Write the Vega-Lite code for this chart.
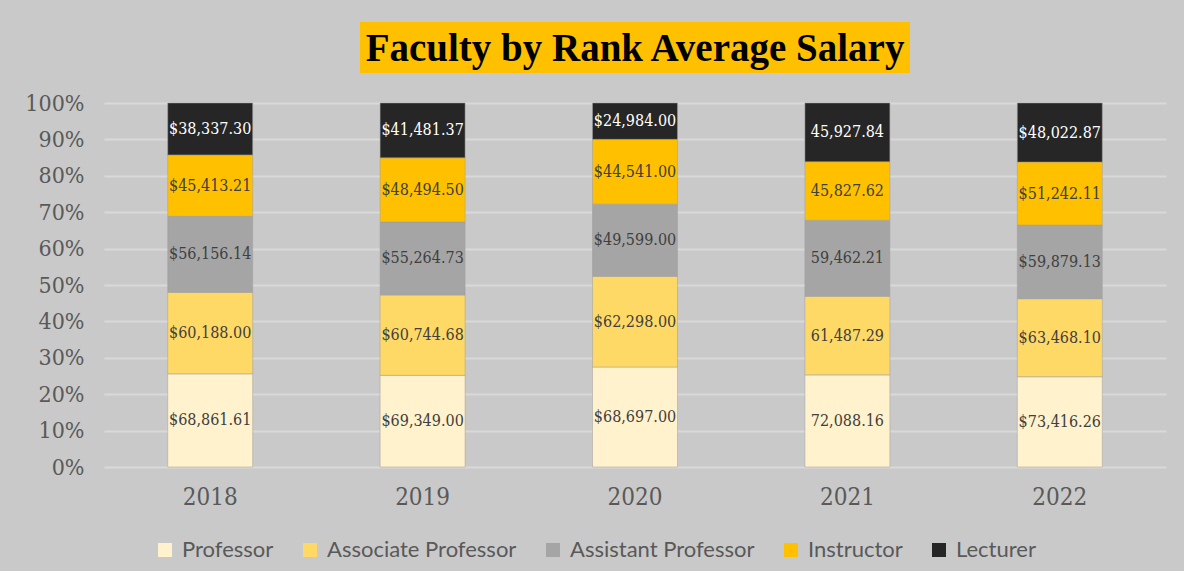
{
  "$schema": "https://vega.github.io/schema/vega-lite/v6.json",
  "background": "#C9C9C9",
  "padding": {"left": 24, "top": 22, "right": 18, "bottom": 10},
  "config": {
    "view": {"stroke": null},
    "legend": {"layout": {"bottom": {"anchor": "middle"}}}
  },
  "datasets": {
    "salaries": [
      {"year": "2018", "rank": "Professor", "salary": 68861.61, "label": "$68,861.61"},
      {"year": "2018", "rank": "Associate Professor", "salary": 60188.00, "label": "$60,188.00"},
      {"year": "2018", "rank": "Assistant Professor", "salary": 56156.14, "label": "$56,156.14"},
      {"year": "2018", "rank": "Instructor", "salary": 45413.21, "label": "$45,413.21"},
      {"year": "2018", "rank": "Lecturer", "salary": 38337.30, "label": "$38,337.30"},
      {"year": "2019", "rank": "Professor", "salary": 69349.00, "label": "$69,349.00"},
      {"year": "2019", "rank": "Associate Professor", "salary": 60744.68, "label": "$60,744.68"},
      {"year": "2019", "rank": "Assistant Professor", "salary": 55264.73, "label": "$55,264.73"},
      {"year": "2019", "rank": "Instructor", "salary": 48494.50, "label": "$48,494.50"},
      {"year": "2019", "rank": "Lecturer", "salary": 41481.37, "label": "$41,481.37"},
      {"year": "2020", "rank": "Professor", "salary": 68697.00, "label": "$68,697.00"},
      {"year": "2020", "rank": "Associate Professor", "salary": 62298.00, "label": "$62,298.00"},
      {"year": "2020", "rank": "Assistant Professor", "salary": 49599.00, "label": "$49,599.00"},
      {"year": "2020", "rank": "Instructor", "salary": 44541.00, "label": "$44,541.00"},
      {"year": "2020", "rank": "Lecturer", "salary": 24984.00, "label": "$24,984.00"},
      {"year": "2021", "rank": "Professor", "salary": 72088.16, "label": "72,088.16"},
      {"year": "2021", "rank": "Associate Professor", "salary": 61487.29, "label": "61,487.29"},
      {"year": "2021", "rank": "Assistant Professor", "salary": 59462.21, "label": "59,462.21"},
      {"year": "2021", "rank": "Instructor", "salary": 45827.62, "label": "45,827.62"},
      {"year": "2021", "rank": "Lecturer", "salary": 45927.84, "label": "45,927.84"},
      {"year": "2022", "rank": "Professor", "salary": 73416.26, "label": "$73,416.26"},
      {"year": "2022", "rank": "Associate Professor", "salary": 63468.10, "label": "$63,468.10"},
      {"year": "2022", "rank": "Assistant Professor", "salary": 59879.13, "label": "$59,879.13"},
      {"year": "2022", "rank": "Instructor", "salary": 51242.11, "label": "$51,242.11"},
      {"year": "2022", "rank": "Lecturer", "salary": 48022.87, "label": "$48,022.87"}
    ]
  },
  "vconcat": [
    {
      "width": 550,
      "height": 51,
      "view": {"fill": "#FFC000", "stroke": null},
      "data": {"values": [{"t": "Faculty by Rank Average Salary"}]},
      "mark": {"type": "text", "font": "Liberation Serif", "fontSize": 39, "fontWeight": "bold", "color": "#000000", "baseline": "middle", "align": "center", "dy": 1},
      "encoding": {"text": {"field": "t", "type": "nominal"}}
    },
    {
      "width": 1062,
      "height": 364,
      "data": {"name": "salaries"},
      "transform": [
        {"calculate": "datum.rank === 'Professor' ? 0 : datum.rank === 'Associate Professor' ? 1 : datum.rank === 'Assistant Professor' ? 2 : datum.rank === 'Instructor' ? 3 : 4", "as": "k"},
        {"stack": "salary", "groupby": ["year"], "sort": [{"field": "k", "order": "ascending"}], "offset": "normalize", "as": ["y0", "y1"]},
        {"calculate": "(datum.y0 + datum.y1) / 2", "as": "ymid"}
      ],
      "encoding": {
        "x": {
          "field": "year", "type": "ordinal",
          "scale": {"paddingInner": 0.6, "paddingOuter": 0.3},
          "axis": {"title": null, "labelAngle": 0, "ticks": false, "domain": false, "labelFont": "DejaVu Serif Condensed", "labelFontSize": 24, "labelColor": "#595959", "labelPadding": 18}
        }
      },
      "layer": [
        {
          "mark": {"type": "bar", "stroke": "#9E9E9E", "strokeWidth": 0.5},
          "encoding": {
            "y": {
              "field": "y0", "type": "quantitative",
              "scale": {"domain": [0, 1], "nice": false},
              "axis": {"title": null, "format": ".0%", "tickCount": 10, "labelOverlap": false, "labelSeparation": 0, "ticks": false, "domain": false, "gridColor": "#D9D9D9", "gridWidth": 2, "labelFont": "DejaVu Serif Condensed", "labelFontSize": 23, "labelColor": "#595959", "labelPadding": 20}
            },
            "y2": {"field": "y1"},
            "color": {
              "field": "rank", "type": "nominal",
              "scale": {
                "domain": ["Professor", "Associate Professor", "Assistant Professor", "Instructor", "Lecturer"],
                "range": ["#FFF2CC", "#FFD966", "#A5A5A5", "#FFC000", "#262626"]
              },
              "legend": {
                "title": null, "orient": "bottom", "direction": "horizontal",
                "symbolType": "square", "symbolSize": 196, "symbolStrokeWidth": 0, "symbolOpacity": 1,
                "labelFont": "Lato", "labelFontSize": 22, "labelColor": "#595959", "labelLimit": 400,
                "columnPadding": 25, "offset": 30, "labelOffset": 6
              }
            }
          }
        },
        {
          "mark": {"type": "text", "font": "DejaVu Serif Condensed", "fontSize": 16, "baseline": "middle"},
          "encoding": {
            "y": {"field": "ymid", "type": "quantitative"},
            "text": {"field": "label", "type": "nominal"},
            "color": {
              "condition": {"test": "datum.rank === 'Lecturer'", "value": "#FFFFFF"},
              "value": "#404040"
            }
          }
        }
      ]
    }
  ],
  "spacing": 30,
  "center": true,
  "bounds": "flush"
}
